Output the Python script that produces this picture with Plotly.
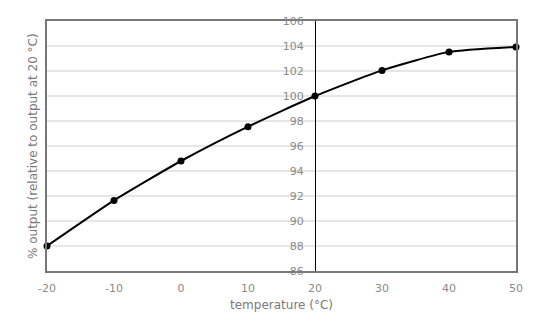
import plotly.graph_objects as go

temperature = [-20, -10, 0, 10, 20, 30, 40, 50]
output_pct = [88.0, 91.65, 94.8, 97.55, 100.0, 102.05, 103.53, 103.93]
x_ticks = [-20, -10, 0, 10, 20, 30, 40, 50]
x_tick_labels = ["-20", "-10", "0", "10", "20", "30", "40", "50"]
y_ticks = [86, 88, 90, 92, 94, 96, 98, 100, 102, 104, 106]

font_family = "DejaVu Sans"
label_color = "#8a8a8a"
title_color = "#7a7a7a"

fig = go.Figure()
fig.add_trace(go.Scatter(
    x=temperature, y=output_pct,
    mode="lines+markers",
    line=dict(color="black", width=2, shape="spline", smoothing=0.5),
    marker=dict(color="black", size=7),
    cliponaxis=False,
    showlegend=False,
))

fig.update_layout(
    width=536, height=332,
    margin=dict(l=47, r=20, t=21, b=61),
    paper_bgcolor="white", plot_bgcolor="white",
    font=dict(family=font_family, size=11, color=label_color),
    xaxis=dict(
        range=[-20, 50], tickvals=x_ticks, ticktext=x_tick_labels,
        showgrid=False, zeroline=False,
        showline=True, linecolor="#777777", linewidth=1.5, mirror=True,
        ticks="outside", ticklen=6, tickcolor="rgba(0,0,0,0)",
        title=dict(text="temperature (°C)", standoff=7,
                   font=dict(size=12, color=title_color)),
        tickfont=dict(size=11, color=label_color),
    ),
    yaxis=dict(
        range=[86, 106], tickvals=y_ticks,
        anchor="free", position=40/70,
        showgrid=True, gridcolor="#e6e6e6", gridwidth=1.5,
        zeroline=False,
        showline=True, linecolor="black", linewidth=1,
        ticks="outside", ticklen=9, tickcolor="rgba(0,0,0,0)",
        tickfont=dict(size=11, color=label_color),
    ),
    yaxis2=dict(
        range=[86, 106], overlaying="y", anchor="x", side="left",
        showgrid=False, zeroline=False, showticklabels=False,
        showline=True, linecolor="#777777", linewidth=1.5, mirror=True,
    ),
    annotations=[dict(
        text="% output (relative to output at 20 °C)",
        xref="paper", yref="paper", x=(33 - 47) / 469, y=0.5,
        xanchor="center", yanchor="middle", textangle=-90,
        showarrow=False, font=dict(size=12, color=title_color),
    )],
)

# invisible trace to activate yaxis2 frame
fig.add_trace(go.Scatter(x=[None], y=[None], yaxis="y2", showlegend=False,
                         hoverinfo="skip"))

fig.write_html("out.html")
